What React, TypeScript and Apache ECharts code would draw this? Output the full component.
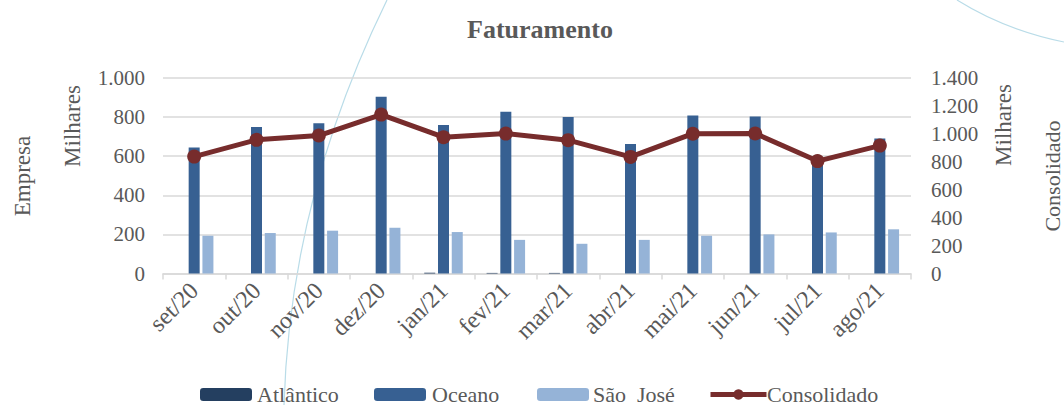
import React, { useEffect, useRef } from "react";
import * as echarts from "echarts";

const categories = ["set/20", "out/20", "nov/20", "dez/20", "jan/21", "fev/21", "mar/21", "abr/21", "mai/21", "jun/21", "jul/21", "ago/21"];
const atlantico = [0, 0, 0, 0, 4, 3, 3, 0, 0, 0, 0, 0];
const oceano = [644, 750, 769, 904, 760, 827, 800, 663, 808, 803, 595, 690];
const saoJose = [193, 207, 219, 234, 212, 172, 152, 172, 193, 200, 210, 226];
const consolidado = [837, 957, 988, 1138, 976, 1002, 955, 835, 1001, 1003, 805, 916];

const seriesNames = ["Atlântico", "Oceano", "São  José", "Consolidado"];
const legendIconX = [200, 374, 537, 708];
const legendTextX = [257, 432, 593, 767];

const leftMax = 1000;
const rightMax = 1400;
const tickStep = 200;

const FONT = "Liberation Serif";
const TXT = "#595959";

const fmt = (v: number) => String(v).replace(/\B(?=(\d{3})+(?!\d))/g, ".");

export default function App() {
  const ref = useRef<HTMLDivElement>(null);
  useEffect(() => {
    if (!ref.current) return;
    const chart = echarts.init(ref.current, undefined, { renderer: "svg" });
    const legends = seriesNames.map((n, i) => ({
      data: [n],
      left: legendIconX[i],
      top: 388,
      padding: 0,
      itemWidth: i === 3 ? 56 : 52,
      itemHeight: 13,
      lineStyle: { width: 5 },
      formatter: () => "",
      textStyle: { fontFamily: FONT, fontSize: 22, color: TXT },
    }));
    const legendTexts = seriesNames.map((n, i) => ({
      type: "text",
      x: legendTextX[i],
      y: 394,
      style: { text: n, font: `22px '${FONT}'`, fill: TXT, textAlign: "left", textVerticalAlign: "middle" },
    }));
    chart.setOption({
      animation: false,
      backgroundColor: "#ffffff",
      textStyle: { fontFamily: FONT, color: TXT },
      graphic: [
        {
          type: "bezierCurve",
          z: -10,
          silent: true,
          shape: { x1: 387, y1: 0, x2: 284, y2: 405, cpx1: 290, cpy1: 198 },
          style: { stroke: "#b9dce8", lineWidth: 1.2, fill: null },
        },
        {
          type: "bezierCurve",
          z: -10,
          silent: true,
          shape: { x1: 957, y1: 0, x2: 1064, y2: 42, cpx1: 1005, cpy1: 30 },
          style: { stroke: "#b9dce8", lineWidth: 1.2, fill: null },
        },
        {
          type: "text",
          x: 540,
          y: 29,
          style: {
            text: "Faturamento",
            font: `bold 26px '${FONT}'`,
            fill: TXT,
            textAlign: "center",
            textVerticalAlign: "middle",
          },
        },
        {
          type: "text",
          x: 22,
          y: 176,
          rotation: Math.PI / 2,
          style: { text: "Empresa", font: `23px '${FONT}'`, fill: TXT, textAlign: "center", textVerticalAlign: "middle" },
        },
        {
          type: "text",
          x: 72,
          y: 126,
          rotation: Math.PI / 2,
          style: { text: "Milhares", font: `23px '${FONT}'`, fill: TXT, textAlign: "center", textVerticalAlign: "middle" },
        },
        {
          type: "text",
          x: 1003,
          y: 125,
          rotation: Math.PI / 2,
          style: { text: "Milhares", font: `23px '${FONT}'`, fill: TXT, textAlign: "center", textVerticalAlign: "middle" },
        },
        {
          type: "text",
          x: 1052,
          y: 176,
          rotation: Math.PI / 2,
          style: { text: "Consolidado", font: `22px '${FONT}'`, fill: TXT, textAlign: "center", textVerticalAlign: "middle" },
        },
        ...legendTexts,
      ],
      grid: { left: 163, right: 153, top: 78, bottom: 131.5, containLabel: false },
      legend: legends,
      xAxis: {
        type: "category",
        data: categories,
        axisLine: { lineStyle: { color: "#d9d9d9", width: 1.5 } },
        axisTick: { show: true, length: 6, lineStyle: { color: "#d9d9d9", width: 1.5 } },
        axisLabel: { rotate: 45, fontFamily: FONT, fontSize: 24, color: TXT, margin: 13 },
      },
      yAxis: [
        {
          type: "value",
          min: 0,
          max: leftMax,
          interval: tickStep,
          axisLine: { show: false },
          axisTick: { show: false },
          splitLine: { lineStyle: { color: "#d9d9d9", width: 1.5 } },
          axisLabel: { fontFamily: FONT, fontSize: 21, color: TXT, margin: 18, formatter: fmt },
        },
        {
          type: "value",
          min: 0,
          max: rightMax,
          interval: tickStep,
          axisLine: { show: false },
          axisTick: { show: false },
          splitLine: { show: false },
          axisLabel: { fontFamily: FONT, fontSize: 21, color: TXT, margin: 20, formatter: fmt },
        },
      ],
      series: [
        {
          name: "Atlântico",
          type: "bar",
          data: atlantico,
          barWidth: 11,
          barGap: "25%",
          itemStyle: { color: "#243f60" },
        },
        {
          name: "Oceano",
          type: "bar",
          data: oceano,
          barWidth: 11,
          barGap: "25%",
          itemStyle: { color: "#376092" },
        },
        {
          name: "São  José",
          type: "bar",
          data: saoJose,
          barWidth: 11,
          barGap: "25%",
          itemStyle: { color: "#95b3d7" },
        },
        {
          name: "Consolidado",
          type: "line",
          yAxisIndex: 1,
          data: consolidado,
          symbol: "circle",
          symbolSize: 14,
          z: 5,
          lineStyle: { color: "#772c2c", width: 5 },
          itemStyle: { color: "#772c2c" },
        },
      ],
    });
    return () => chart.dispose();
  }, []);
  return (
    <div
      ref={ref}
      style={{ position: "fixed", left: 0, top: 0, width: 1064, height: 405, background: "#fff" }}
    />
  );
}
